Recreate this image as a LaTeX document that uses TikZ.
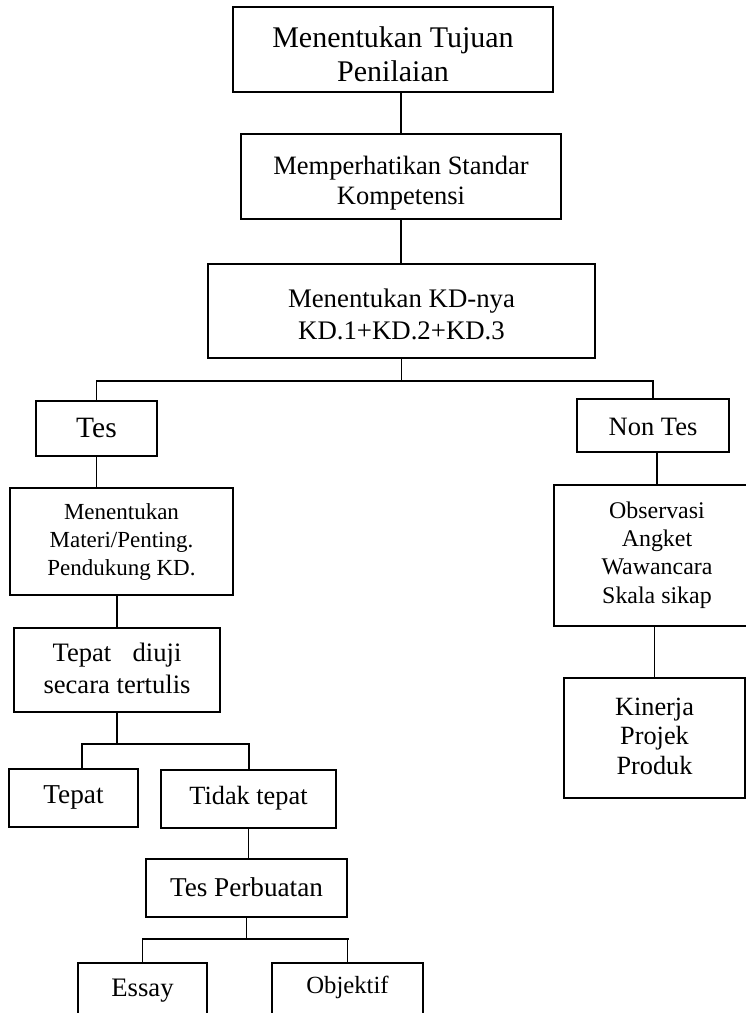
\documentclass[tikz,border=0pt]{standalone}
\usepackage{fontspec}
\setmainfont{Liberation Serif}
\newcommand\fsz[2]{\fontsize{#1}{#2}\selectfont}
\tikzset{
  box/.style={draw, line width=1.7pt, inner sep=0pt},
  conn/.style={line width=1.8pt},
  txt/.style={align=center, inner sep=0pt},
}
\begin{document}
\begin{tikzpicture}[x=1pt,y=-1pt]
\useasboundingbox (0,0) rectangle (746,1013);
% boxes
\node[box, minimum width=320pt, minimum height=85pt] (b1) at (393,49.5) {};
\node[box, minimum width=320pt, minimum height=85pt] (b2) at (401,176.5) {};
\node[box, minimum width=387pt, minimum height=94pt] (b3) at (401.5,311) {};
\node[box, minimum width=121pt, minimum height=55pt] (tes) at (96.5,428.5) {};
\node[box, minimum width=152pt, minimum height=53pt] (nontes) at (653,425.5) {};
\node[box, minimum width=223pt, minimum height=107pt] (m1) at (121.5,541.5) {};
\node[box, minimum width=206pt, minimum height=141pt] (obs) at (657,555.5) {};
\node[box, minimum width=206pt, minimum height=84pt] (td) at (117,670) {};
\node[box, minimum width=181pt, minimum height=120pt] (kin) at (654.5,738) {};
\node[box, minimum width=129pt, minimum height=58pt] (tepat) at (73.5,798) {};
\node[box, minimum width=175pt, minimum height=58pt] (tidak) at (248.5,799) {};
\node[box, minimum width=201pt, minimum height=58pt] (tp) at (246.5,888) {};
\node[box, minimum width=129pt, minimum height=70pt] (essay) at (142.5,998) {};
\node[box, minimum width=151pt, minimum height=70pt] (obj) at (347.5,998) {};
% texts
\node[txt, font=\fsz{30}{33.5}] (t1) at (393,54) {Menentukan Tujuan\\Penilaian};
\node[txt, font=\fsz{26.5}{30}] (t2) at (401,183) {Memperhatikan Standar\\Kompetensi};
\node[txt, font=\fsz{26.8}{32}] (t3) at (401.5,314.5) {Menentukan KD-nya\\KD.1+KD.2+KD.3};
\node[txt, font=\fsz{29.5}{32}] (tt) at (96.5,428) {Tes};
\node[txt, font=\fsz{26.5}{30}] (tn) at (653,427) {Non Tes};
\node[txt, font=\fsz{23}{28}] (tm) at (121.5,542) {Menentukan\\Materi/Penting.\\Pendukung KD.};
\node[txt, font=\fsz{23.9}{28.3}] (to) at (657,555) {Observasi\\Angket\\Wawancara\\Skala sikap};
\node[txt, font=\fsz{26.6}{32}] (ttd) at (117,668) {Tepat\hspace{0.8em}diuji\\secara tertulis};
\node[txt, font=\fsz{26.3}{29.5}] (tk) at (654.5,736) {Kinerja\\Projek\\Produk};
\node[txt, font=\fsz{27.3}{30}] (ttp) at (73.5,797) {Tepat};
\node[txt, font=\fsz{26.3}{30}] (ttk) at (248.5,798) {Tidak tepat};
\node[txt, font=\fsz{27.2}{30}] (ttb) at (246.5,887) {Tes Perbuatan};
\node[txt, font=\fsz{26.7}{30}] (tes2) at (142.5,991) {Essay};
\node[txt, font=\fsz{24.7}{30}] (tob) at (347.5,987) {Objektif};
% junction coordinates
\coordinate (j1) at (401.5,381);
\coordinate (j2) at (117,744);
\coordinate (jl) at (82,744);
\coordinate (jr) at (249,744);
\coordinate (j3) at (248,939);
\coordinate (j3r) at (349,939);
% connectors
\draw[conn] (b2.north) -- (b2.north |- b1.south);
\draw[conn] (b2.south) -- (b2.south |- b3.north);
\draw[conn] (b3.south) -- (j1);
\draw[conn] (tes.north) |- (j1) -| (nontes.north);
\draw[conn] (tes.south) -- (tes.south |- m1.north);
\draw[conn] (obs.north) -- (obs.north |- nontes.south);
\draw[conn] (kin.north) -- (kin.north |- obs.south);
\draw[conn] (td.north) -- (td.north |- m1.south);
\draw[conn] (td.south) -- (j2);
\draw[conn] (jl |- tepat.north) -- (jl) -- (jr) -- (jr |- tidak.north);
\draw[conn] (tidak.south) -- (tidak.south |- tp.north);
\draw[conn] (tp.south) -- (tp.south |- j3);
\draw[conn] (essay.north) |- (j3r);
\draw[conn] (obj.north) -- (obj.north |- j3);
\end{tikzpicture}
\end{document}
